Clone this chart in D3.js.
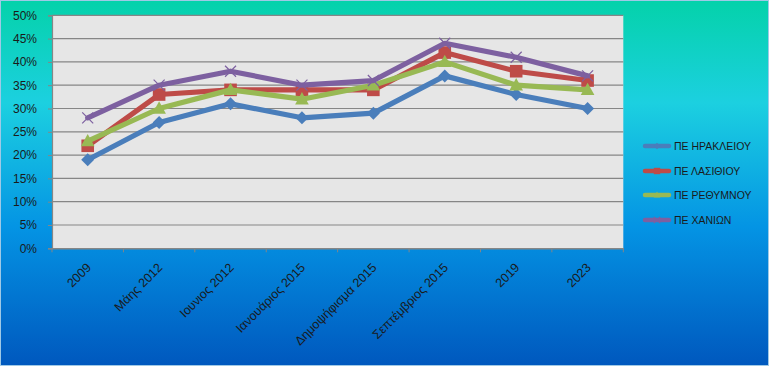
<!DOCTYPE html>
<html>
<head>
<meta charset="utf-8">
<script src="https://cdn.jsdelivr.net/npm/d3@7"></script>
<style>
html,body{margin:0;padding:0;background:#fff;}
svg{display:block;}
text{font-family:"Liberation Sans",Arial,sans-serif;}
</style>
</head>
<body>
<svg id="chart" width="769" height="366"></svg>
<script>
const categories = ["2009","Μάης 2012","Ιουνιος 2012","Ιανουάριος 2015","Δημοψήφισμα 2015","Σεπτέμβριος 2015","2019","2023"];
const seriesNames = ["ΠΕ ΗΡΑΚΛΕΙΟΥ","ΠΕ ΛΑΣΙΘΙΟΥ","ΠΕ ΡΕΘΥΜΝΟΥ","ΠΕ ΧΑΝΙΩΝ"];
const heraklion = [0.19,0.27,0.31,0.28,0.29,0.37,0.33,0.30];
const lasithi   = [0.22,0.33,0.34,0.34,0.34,0.42,0.38,0.36];
const rethymno  = [0.23,0.30,0.34,0.32,0.35,0.40,0.35,0.34];
const chania    = [0.28,0.35,0.38,0.35,0.36,0.44,0.41,0.37];
const yTicks = [0,0.05,0.10,0.15,0.20,0.25,0.30,0.35,0.40,0.45,0.50];

const seriesValues = [heraklion, lasithi, rethymno, chania];
const colors = ["#4A7EBB","#BE4B48","#98B954","#7D60A0"];
const markers = ["diamond","square","triangle","x"];

const W = 769, H = 366;
const svg = d3.select("#chart");
const defs = svg.append("defs");
const grad = defs.append("linearGradient").attr("id","bg").attr("x1",0).attr("y1",0).attr("x2",0).attr("y2",1);
[[0,"#04D2AA"],[0.28,"#1CD0E0"],[0.62,"#0494E4"],[1,"#0058BE"]].forEach(([o,c])=>grad.append("stop").attr("offset",o).attr("stop-color",c));
svg.append("rect").attr("x",0.5).attr("y",0.5).attr("width",W-1).attr("height",H-1).attr("fill","url(#bg)").attr("stroke","#9fc9e6").attr("stroke-width",1);

const plot = {left:52, right:623.3, top:15.3, bottom:248.3};
const x = d3.scaleBand().domain(categories).range([plot.left, plot.right]).paddingInner(0).paddingOuter(0);
const y = d3.scaleLinear().domain([0,0.5]).range([plot.bottom, plot.top]);

svg.append("rect").attr("x",plot.left).attr("y",plot.top).attr("width",plot.right-plot.left).attr("height",plot.bottom-plot.top).attr("fill","#E6E6E6");

// gridlines
svg.append("g").selectAll("line").data(yTicks.slice(1)).join("line")
  .attr("x1",plot.left).attr("x2",plot.right)
  .attr("y1",d=>y(d)).attr("y2",d=>y(d))
  .attr("stroke","#868686").attr("stroke-width",1.2);

// y axis
const yAxis = svg.append("g").attr("transform",`translate(${plot.left},0)`)
  .call(d3.axisLeft(y).tickValues(yTicks).tickFormat(d3.format(".0%")).tickSize(4).tickPadding(11));
yAxis.select(".domain").attr("stroke","#868686").attr("stroke-width",1.2);
yAxis.selectAll(".tick line").attr("stroke","#868686");
yAxis.selectAll("text").attr("fill","#1a1a1a").style("font-size","12px").style("font-family","Liberation Sans, Arial, sans-serif");

// x axis
const xAxis = svg.append("g").attr("transform",`translate(0,${plot.bottom})`)
  .call(d3.axisBottom(x).tickSize(0).tickFormat(""));
xAxis.select(".domain").attr("stroke","#868686").attr("stroke-width",1.5);
const bounds = categories.map(c=>x(c)).concat([plot.right]);
xAxis.selectAll(".bt").data(bounds).join("line").attr("class","bt")
  .attr("x1",d=>d).attr("x2",d=>d).attr("y1",0).attr("y2",4).attr("stroke","#868686");
svg.append("g").selectAll("text").data(categories).join("text")
  .attr("transform",d=>`translate(${x(d)+x.bandwidth()/2+1},${plot.bottom+17}) rotate(-45)`)
  .attr("text-anchor","end").attr("dy","0.35em")
  .attr("fill","#1a1a1a").style("font-size","12.5px")
  .text(d=>d);

function drawMarker(g, type, color, cx, cy, s) {
  if (type==="diamond") {
    g.append("path").attr("d",`M${cx},${cy-s}L${cx+s},${cy}L${cx},${cy+s}L${cx-s},${cy}Z`).attr("fill",color);
  } else if (type==="square") {
    g.append("rect").attr("x",cx-s).attr("y",cy-s).attr("width",2*s).attr("height",2*s).attr("fill",color);
  } else if (type==="triangle") {
    g.append("path").attr("d",`M${cx},${cy-s*1.1}L${cx+s*1.05},${cy+s*0.8}L${cx-s*1.05},${cy+s*0.8}Z`).attr("fill",color);
  } else {
    g.append("path").attr("d",`M${cx-s},${cy-s}L${cx+s},${cy+s}M${cx+s},${cy-s}L${cx-s},${cy+s}`).attr("stroke",color).attr("stroke-width",1.2).attr("fill","none");
  }
}

const cxOf = c => x(c)+x.bandwidth()/2;
const line = d3.line().x((d,i)=>cxOf(categories[i])).y(d=>y(d));
const sizes = [6.5,6.3,6.5,5.5];
seriesValues.forEach((vals,si)=>{
  const g = svg.append("g");
  g.append("path").datum(vals).attr("d",line).attr("fill","none")
    .attr("stroke",colors[si]).attr("stroke-width",5.2).attr("stroke-linejoin","round").attr("stroke-linecap","round");
  vals.forEach((v,i)=>drawMarker(g, markers[si], colors[si], cxOf(categories[i]), y(v), sizes[si]));
});

// legend
const legY = [146,171,195,220];
seriesNames.forEach((n,i)=>{
  const g = svg.append("g");
  g.append("line").attr("x1",645).attr("x2",669).attr("y1",legY[i]).attr("y2",legY[i])
    .attr("stroke",colors[i]).attr("stroke-width",4.5).attr("stroke-linecap","round");
  drawMarker(g, markers[i], colors[i], 657, legY[i], 3.2);
  g.append("text").attr("x",674).attr("y",legY[i]).attr("dy","0.35em")
    .attr("fill","#1a1a1a").style("font-size","10.5px").text(n);
});
</script>
</body>
</html>
